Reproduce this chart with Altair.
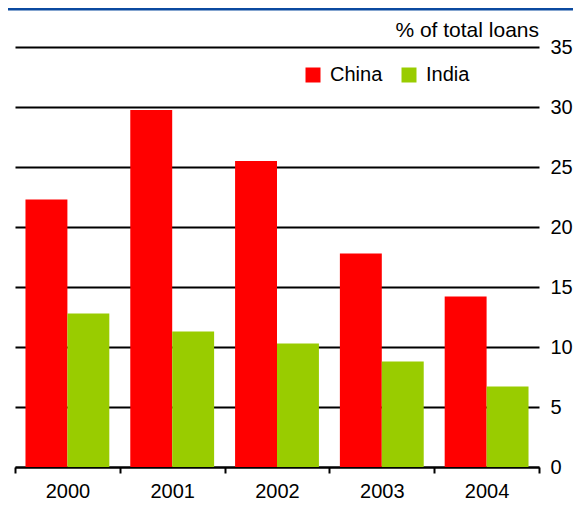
import altair as alt
import pandas as pd

years = ["2000", "2001", "2002", "2003", "2004"]
china = [22.3, 29.75, 25.5, 17.8, 14.2]
india = [12.8, 11.3, 10.3, 8.8, 6.7]
series = ["China", "India"]
colors = ["#FF0000", "#99CC00"]
y_ticks = [0, 5, 10, 15, 20, 25, 30, 35]

rows = []
for i, yr in enumerate(years):
    rows.append({"year": yr, "series": "China", "value": china[i]})
    rows.append({"year": yr, "series": "India", "value": india[i]})
df = pd.DataFrame(rows)

FONT = "Liberation Sans"
W, H = 524, 420
PL, PT, PR, PB = 7, 39, 34, 34

bars = alt.Chart(df).mark_bar(strokeWidth=0).encode(
    x=alt.X("year:N", sort=years,
            scale=alt.Scale(paddingInner=0, paddingOuter=0),
            axis=alt.Axis(title=None, orient="bottom", tickBand="extent",
                          domain=True, domainColor="#000000", domainWidth=2,
                          ticks=True, tickColor="#000000", tickWidth=2, tickSize=6,
                          labelFontSize=20, labelFont=FONT, labelColor="#000000",
                          labelPadding=8, labelAngle=0, grid=False)),
    xOffset=alt.XOffset("series:N", sort=series,
                        scale=alt.Scale(paddingOuter=0.25, paddingInner=0)),
    y=alt.Y("value:Q",
            scale=alt.Scale(domain=[0, 35], nice=False, zero=True),
            axis=alt.Axis(title=None, orient="right", values=y_ticks,
                          grid=True, gridColor="#000000", gridWidth=2,
                          domain=False, ticks=False, labelPadding=11,
                          labelFontSize=20, labelFont=FONT, labelColor="#000000")),
    color=alt.Color("series:N", sort=series,
                    scale=alt.Scale(domain=series, range=colors),
                    legend=alt.Legend(title=None, orient="none", legendX=288, legendY=18,
                                      direction="horizontal", symbolType="square",
                                      symbolSize=225, symbolStrokeWidth=0,
                                      labelFontSize=20, labelFont=FONT, labelColor="#000000",
                                      labelOffset=7, columnPadding=16, padding=0)),
)

topline = alt.Chart(pd.DataFrame({"a": [0]})).mark_rule(color="#0B4AA0", strokeWidth=3).encode(
    x=alt.value(-PL), x2=alt.value(W + PR), y=alt.value(-PT + 1)
)

chart = alt.layer(bars, topline).properties(
    width=W, height=H,
    autosize=alt.AutoSizeParams(type="none"),
    padding={"left": PL, "top": PT, "right": PR, "bottom": PB},
    title=alt.TitleParams("% of total loans", anchor="end", frame="group",
                          fontSize=21, fontWeight="normal", font=FONT,
                          color="#000000", offset=-33),
).configure(background="white", view=alt.ViewConfig(stroke=None))

chart.save("out.html", embed_options={"renderer": "svg", "actions": False})
